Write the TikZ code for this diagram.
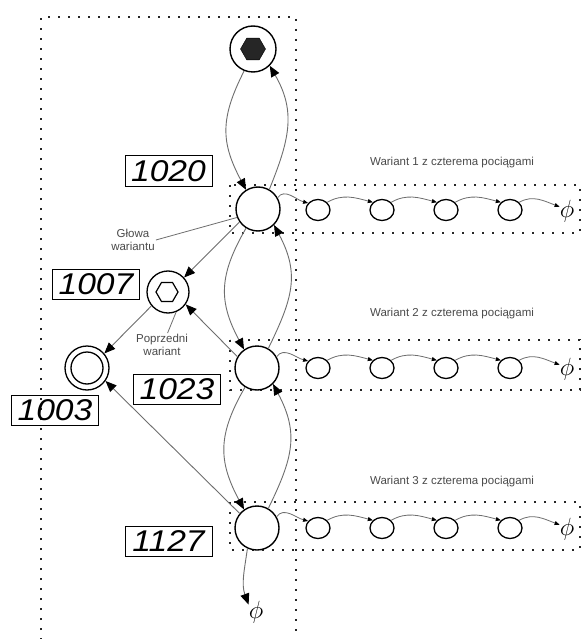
\documentclass[tikz,border=0pt]{standalone}
\usepackage{fontspec}
\setmainfont{Liberation Sans}
\newfontfamily\numfont[FakeStretch=1.12]{Liberation Sans}
\usetikzlibrary{arrows.meta,shapes.geometric}
\definecolor{lgray}{HTML}{6E6E6E}
\definecolor{tgray}{HTML}{4A4A4A}
\begin{document}
\begin{tikzpicture}[x=1pt,y=-1pt,
  dots/.style={line width=2.2pt, dash pattern=on 2pt off 8pt, black!85},
  state/.style={circle, draw, line width=1.4pt, inner sep=0pt, minimum size=44pt},
  smallst/.style={ellipse, draw, line width=1.3pt, inner sep=0pt, minimum width=24pt, minimum height=21pt},
  numlab/.style={draw, line width=1pt, inner sep=0pt, minimum width=87pt, minimum height=30pt, font=\numfont\itshape\fontsize{30}{30}\selectfont},
  note/.style={text=tgray, font=\fontsize{11.5}{13}\selectfont, align=center, inner sep=1pt},
  phinode/.style={inner sep=0pt, font=\fontsize{24}{24}\selectfont},
  bigarr/.style={draw=lgray, line width=0.9pt, -{Triangle[length=11pt,width=9pt,color=black]}},
  smallarr/.style={draw=lgray, line width=0.8pt, -{Triangle[length=5pt,width=4pt,color=black]}},
  ptr/.style={draw=lgray, line width=0.8pt}
]
\useasboundingbox (0,0) rectangle (584,639);
\fill[white] (0,0) rectangle (584,639);

% dotted frames
\draw[dots] (41,650) -- (41,17) -- (296,17) -- (296,650);
\draw[dots] (230,185) rectangle (580,233);
\draw[dots] (230,340) rectangle (580,390);
\draw[dots] (230,502) rectangle (580,550);

% main states
\node[state, minimum size=46pt] (top) at (253,49) {};
\node[regular polygon, regular polygon sides=6, minimum size=25pt, inner sep=0pt, draw, fill=black!85] (topin) at (253,49) {};
\node[state] (n1020) at (258,209) {};
\node[state] (n1023) at (257,368) {};
\node[state] (n1127) at (257,528) {};
\node[state, minimum size=42pt, line width=1.3pt] (n1007) at (168,292) {};
\node[regular polygon, regular polygon sides=6, minimum size=22pt, inner sep=0pt, draw, line width=1.2pt] (n1007in) at (167,292) {};
\node[state, minimum size=44pt, line width=1.3pt] (n1003) at (87,368) {};
\node[circle, draw, line width=1.3pt, minimum size=32pt, inner sep=0pt] (n1003in) at (87,368) {};
\node[phinode] (phibot) at (256,612) {$\phi$};

% number labels
\node[numlab] (lab1020) at (168.5,171) {1020};
\node[numlab] (lab1007) at (96,284) {1007};
\node[numlab] (lab1023) at (177,389) {1023};
\node[numlab] (lab1003) at (55,410) {1003};
\node[numlab] (lab1127) at (168.5,541.5) {1127};

% notes
\node[note] (glowa) at (133,240) {Głowa\\wariantu};
\node[note] (poprz) at (162,345) {Poprzedni\\wariant};
\node[note] (war1) at (452,163) {Wariant 1 z czterema pociągami};
\node[note] (war2) at (452,314) {Wariant 2 z czterema pociągami};
\node[note] (war3) at (452,482) {Wariant 3 z czterema pociągami};

\draw[ptr] (glowa.east) -- (n1020.202);
\draw[ptr] (poprz.65) -- (n1007.292);

% vertical arrows
\draw[bigarr] (top.248) to[out=243,in=118,looseness=1.15] (n1020.122);
\draw[bigarr] (n1020.60) to[out=68,in=300,looseness=1.1] (top.315);
\draw[bigarr] (n1020.238) to[out=240,in=118,looseness=1.15] (n1023.125);
\draw[bigarr] (n1023.60) to[out=64,in=298,looseness=1.15] (n1020.315);
\draw[bigarr] (n1023.238) to[out=240,in=118,looseness=1.15] (n1127.125);
\draw[bigarr] (n1127.60) to[out=64,in=298,looseness=1.15] (n1023.315);
\draw[bigarr] (n1127.245) to[out=262,in=110] (phibot.135);

% diagonal arrows
\draw[bigarr] (n1020.215) -- (n1007.42);
\draw[bigarr] (n1023.150) -- (n1007.325);
\draw[bigarr] (n1007.220) -- (n1003.40);
\draw[bigarr] (n1127.140) -- (n1003.325);

% chains
\foreach \r/\y/\src in {1/210/n1020, 2/368/n1023, 3/528/n1127}{
  \node[smallst] (v\r a) at (318,\y) {};
  \node[smallst] (v\r b) at (382,\y) {};
  \node[smallst] (v\r c) at (446,\y) {};
  \node[smallst] (v\r d) at (510,\y) {};
  \node[phinode] (v\r phi) at (567,\y+1) {$\phi$};
  \draw[smallarr] (\src.30) to[out=55,in=165] (v\r a.145);
  \draw[smallarr] (v\r a.40) to[out=30,in=165] (v\r b.140);
  \draw[smallarr] (v\r b.40) to[out=30,in=165] (v\r c.140);
  \draw[smallarr] (v\r c.40) to[out=30,in=165] (v\r d.140);
  \draw[smallarr] (v\r d.40) to[out=30,in=160] (v\r phi.150);
}
\end{tikzpicture}
\end{document}
